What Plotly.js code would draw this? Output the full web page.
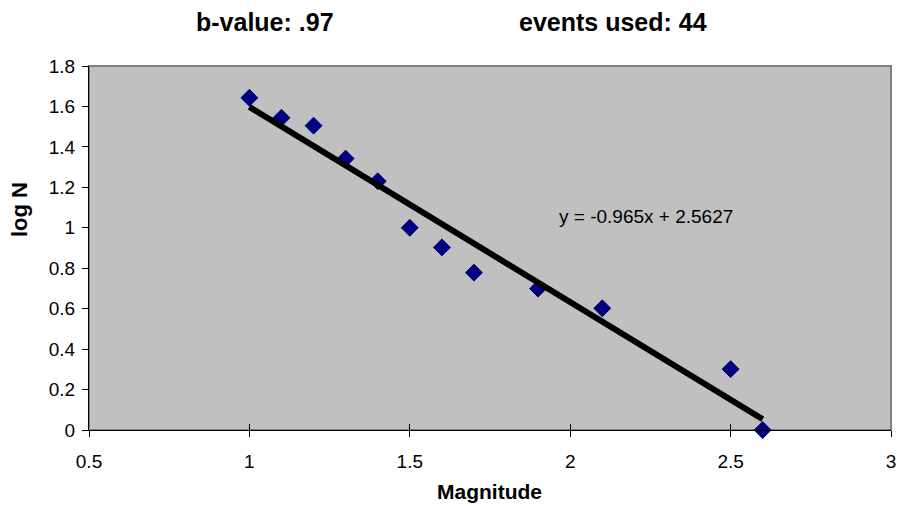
<!DOCTYPE html>
<html>
<head>
<meta charset="utf-8">
<script src="https://cdn.plot.ly/plotly-3.0.1.min.js"></script>
<style>
  html, body { margin: 0; padding: 0; background: #ffffff; }
  #chart { width: 897px; height: 506px; }
</style>
</head>
<body>
<div id="chart"></div>
<script>
// Data
var magnitude = [1.0, 1.1, 1.2, 1.3, 1.4, 1.5, 1.6, 1.7, 1.9, 2.1, 2.5, 2.6];
var logN      = [1.643, 1.544, 1.505, 1.342, 1.23, 1.0, 0.903, 0.778, 0.699, 0.602, 0.301, 0.0];

// Linear trendline as printed on the chart
var trendSlope = -0.965;
var trendIntercept = 2.5627;
var trendX = [1.0, 2.6];

var titleLeft = "b-value: .97";
var titleRight = "events used: 44";
var equationText = "y = -0.965x + 2.5627";
var xTitle = "Magnitude";
var yTitle = "log N";

var xTicks = [0.5, 1, 1.5, 2, 2.5, 3];
var xTickText = ["0.5", "1", "1.5", "2", "2.5", "3"];
var yTicks = [0, 0.2, 0.4, 0.6, 0.8, 1, 1.2, 1.4, 1.6, 1.8];
var yTickText = ["0", "0.2", "0.4", "0.6", "0.8", "1", "1.2", "1.4", "1.6", "1.8"];

var trendY = trendX.map(function (x) { return trendSlope * x + trendIntercept; });

var FONT = "Liberation Sans, Arial, sans-serif";

var traces = [
  {
    x: magnitude,
    y: logN,
    type: "scatter",
    mode: "markers",
    marker: { symbol: "diamond", size: 13, color: "#000080", line: { color: "#00006a", width: 1 } },
    showlegend: false,
    hoverinfo: "x+y",
    cliponaxis: false
  },
  {
    x: trendX,
    y: trendY,
    type: "scatter",
    mode: "lines",
    line: { color: "#000000", width: 6 },
    showlegend: false,
    hoverinfo: "skip"
  },
  {
    x: [xTicks[0]],
    y: [yTicks[0]],
    xaxis: "x2",
    type: "scatter",
    mode: "markers",
    marker: { opacity: 0 },
    showlegend: false,
    hoverinfo: "skip"
  }
];

var layout = {
  width: 897,
  height: 506,
  margin: { l: 89, r: 6, t: 66, b: 76, pad: 0 },
  paper_bgcolor: "#ffffff",
  plot_bgcolor: "#c0c0c0",
  font: { family: FONT, color: "#000000", size: 19 },
  showlegend: false,
  xaxis: {
    range: [0.5, 3],
    tickvals: xTicks,
    ticktext: xTickText,
    showgrid: false,
    zeroline: false,
    showline: true,
    linecolor: "#000000",
    linewidth: 1,
    ticks: "outside",
    ticklen: 6,
    tickwidth: 1,
    tickcolor: "#000000",
    ticklabelstandoff: 8,
    tickfont: { family: FONT, size: 19, color: "#000000" }
  },
  xaxis2: {
    overlaying: "x",
    anchor: "y",
    side: "bottom",
    range: [0.5, 3],
    tickvals: xTicks,
    showticklabels: false,
    showgrid: false,
    zeroline: false,
    showline: false,
    ticks: "inside",
    ticklen: 6,
    tickwidth: 1,
    tickcolor: "#000000"
  },
  yaxis: {
    range: [0, 1.8],
    tickvals: yTicks,
    ticktext: yTickText,
    showgrid: false,
    zeroline: false,
    showline: true,
    linecolor: "#000000",
    linewidth: 1,
    ticks: "outside",
    ticklen: 6,
    tickwidth: 1,
    tickcolor: "#000000",
    ticklabelstandoff: 3,
    tickfont: { family: FONT, size: 19, color: "#000000" }
  },
  shapes: [
    {
      type: "rect", xref: "paper", yref: "paper", x0: 0, x1: 1, y0: 0, y1: 1,
      line: { color: "#808080", width: 2 }, fillcolor: "rgba(0,0,0,0)", layer: "below"
    }
  ],
  annotations: [
    {
      text: "<b>" + titleLeft + "</b>", xref: "paper", yref: "paper",
      x: (265 - 89) / 802, y: 1 + (66 - 22) / 364, xanchor: "center", yanchor: "middle",
      showarrow: false, font: { family: FONT, size: 25, color: "#000000" }
    },
    {
      text: "<b>" + titleRight + "</b>", xref: "paper", yref: "paper",
      x: (613 - 89) / 802, y: 1 + (66 - 22) / 364, xanchor: "center", yanchor: "middle",
      showarrow: false, font: { family: FONT, size: 25, color: "#000000" }
    },
    {
      text: equationText, xref: "x", yref: "y",
      x: 2.235, y: 1.058, xanchor: "center", yanchor: "middle",
      showarrow: false, font: { family: FONT, size: 19, color: "#000000" }
    },
    {
      text: "<b>" + xTitle + "</b>", xref: "paper", yref: "paper",
      x: (489 - 89) / 802, y: -(491 - 430) / 364, xanchor: "center", yanchor: "middle",
      showarrow: false, font: { family: FONT, size: 21, color: "#000000" }
    },
    {
      text: "<b>" + yTitle + "</b>", xref: "paper", yref: "paper",
      x: (19 - 89) / 802, y: (430 - 210) / 364, xanchor: "center", yanchor: "middle",
      textangle: -90,
      showarrow: false, font: { family: FONT, size: 22, color: "#000000" }
    }
  ]
};

Plotly.newPlot("chart", traces, layout, { displayModeBar: false, staticPlot: true });
</script>
</body>
</html>
